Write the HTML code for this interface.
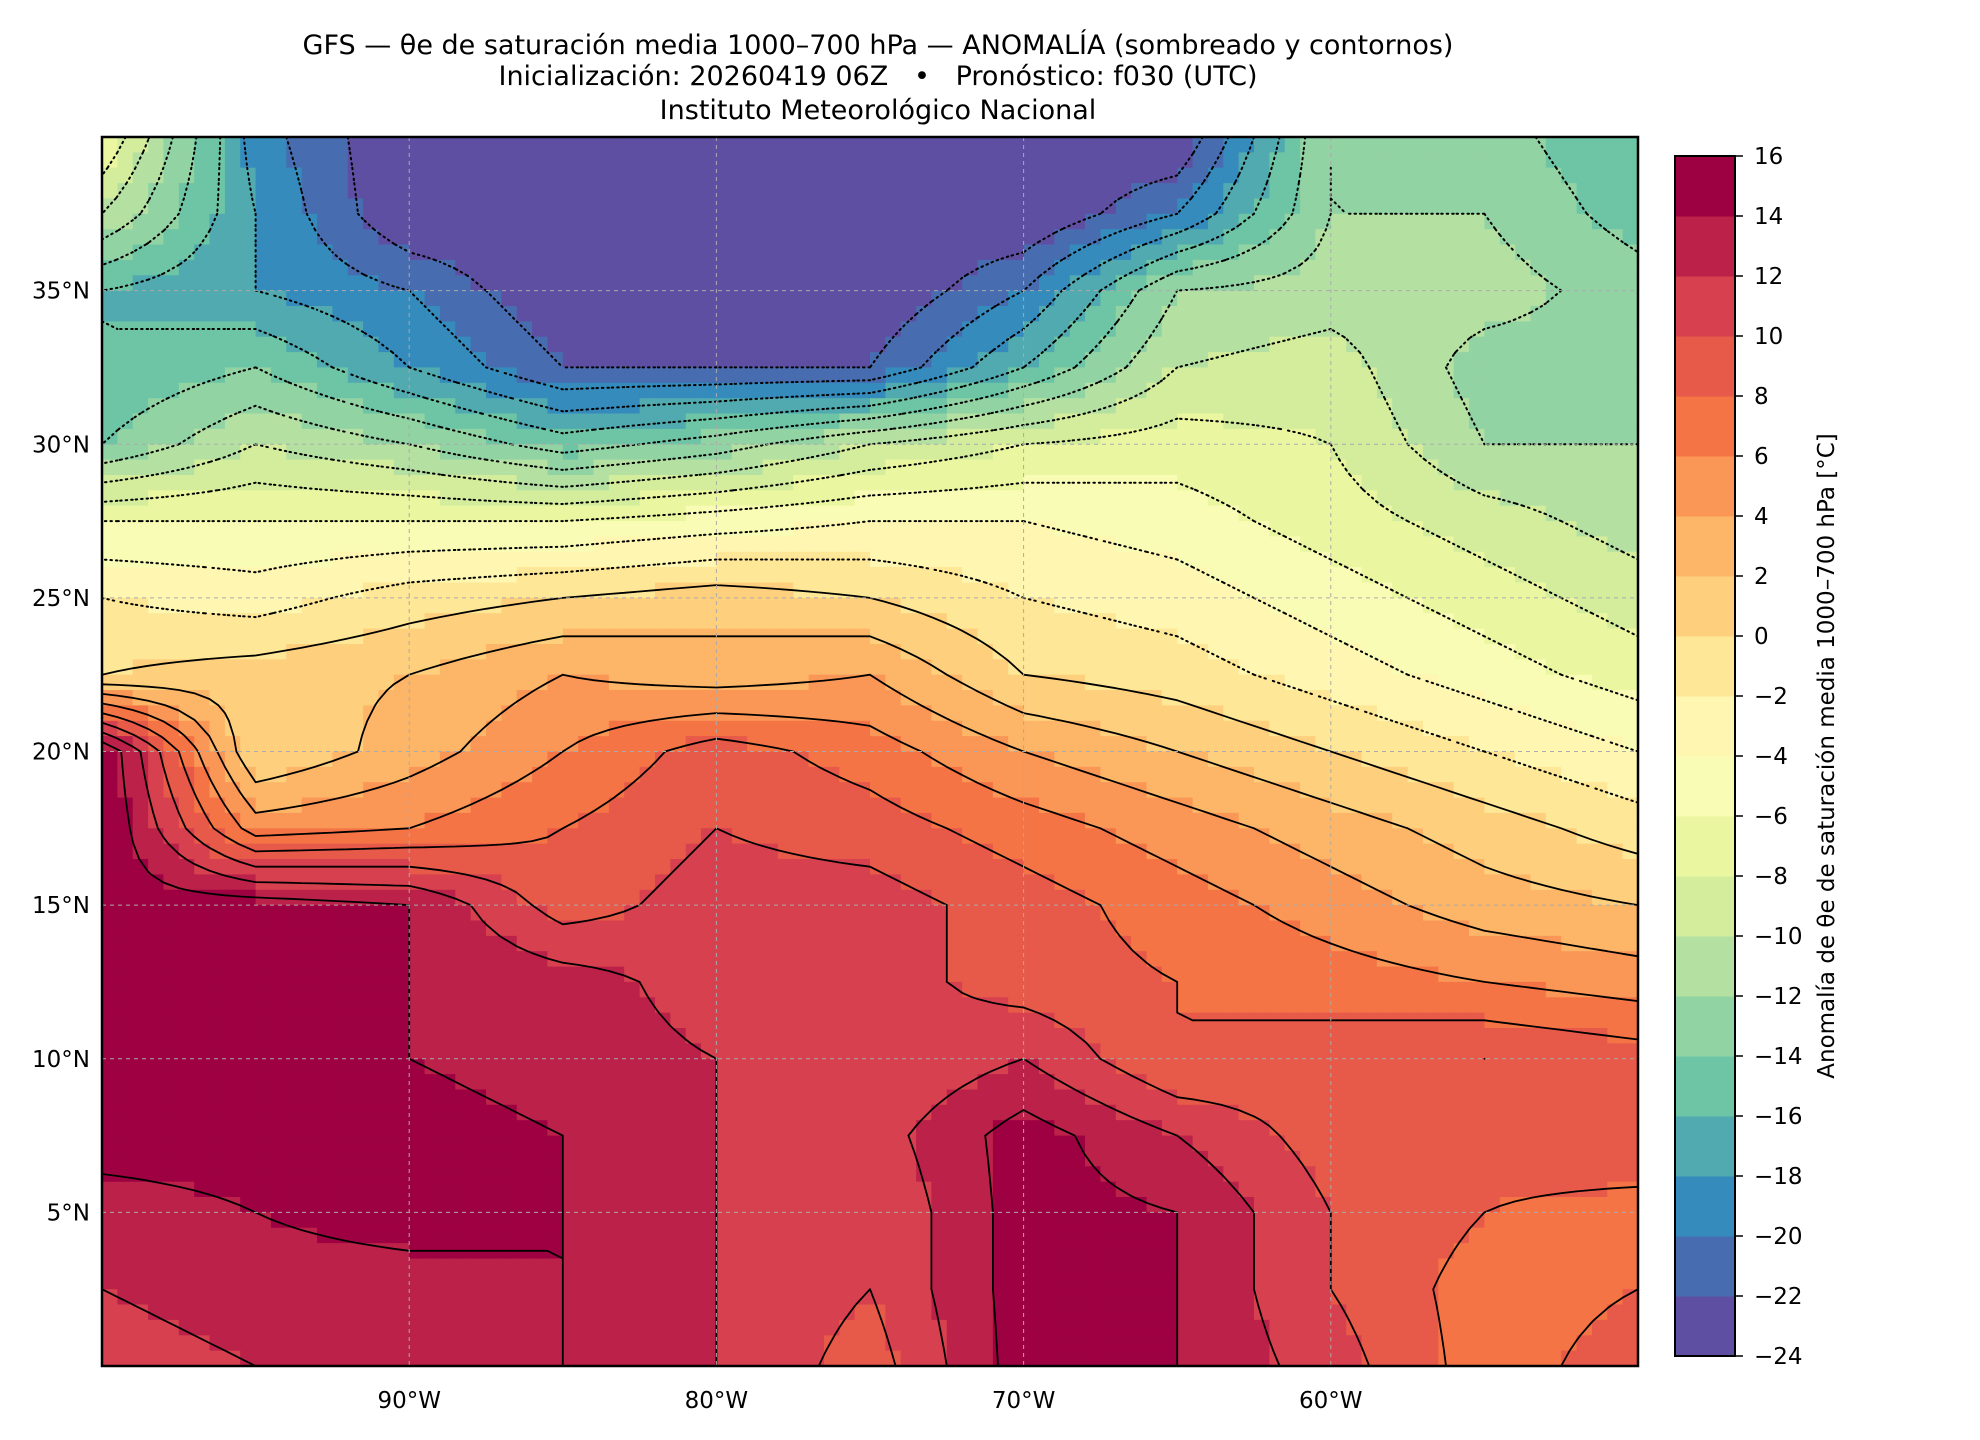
<!DOCTYPE html>
<html><head><meta charset="utf-8">
<style>
body{margin:0;background:#fff;}
#wrap{position:relative;width:1980px;height:1440px;font-family:"DejaVu Sans","Liberation Sans",sans-serif;color:#000;}
.t{position:absolute;left:0;width:1756px;text-align:center;font-size:27px;white-space:nowrap;}
</style></head><body>
<div id="wrap">
<div class="t" style="top:30px">GFS — θe de saturación media 1000–700 hPa — ANOMALÍA (sombreado y contornos)</div>
<div class="t" style="top:61px">Inicialización: 20260419 06Z &nbsp; • &nbsp; Pronóstico: f030 (UTC)</div>
<div class="t" style="top:95px">Instituto Meteorológico Nacional</div>
<svg id="svg" width="1980" height="1440" style="position:absolute;left:0;top:0"></svg>
</div>
<script>
// grid longitudes (°W, as negative) and latitudes (2.5° steps)
const lons=[-100,-95,-90,-85,-80,-75,-70,-65,-60,-55,-50];
const lats=[40,37.5,35,32.5,30,27.5,25,22.5,20,17.5,15,12.5,10,7.5,5,2.5,0];
// anomaly values [°C], rows by lat (north→south), cols by lon (west→east)
const row40=[-6,-19,-24,-24,-24,-24,-24,-24,-12,-13,-16];
const row375=[-10,-18,-24,-24,-24,-24,-24,-20,-12,-12,-15];
const row35=[-16,-18,-20,-24,-24,-24,-20,-12,-11,-11,-13];
const row325=[-16,-14,-18,-22,-22,-22,-16,-10,-9,-13,-13];
const row30=[-14,-10,-12,-15,-13,-10,-8,-7,-8,-12,-12];
const row275=[-6,-6,-6,-6,-5,-4,-4,-5,-7,-9,-11];
const row25=[-2,-3,-1,0,1,0,-2,-3,-5,-7,-9];
const row225=[0,1,2,4,3,4,0,-1,-3,-5,-7];
const row20=[16,0,3,6,9,7,4,2,0,-2,-4];
const row175=[16,5,6,8,10,9,7,5,3,1,-1];
const row15=[15,15,14,9,11,11,9,7,5,3,2];
const row125=[15,15,14,13,11,11,9,8,7,6,5];
const row10=[15,15,14,13,12,10,12,8,9,10,9];
const row75=[15,15,15,14,12,11,15,12,9,9,10];
const row5=[13,14,15,14,12,10,15,14,10,8,7];
const row25s=[12,13,13,14,12,10,15,14,10,7,8];
const row0=[11,12,13,14,12,9,15,14,11,7,9];
const field=[row40,row375,row35,row325,row30,row275,row25,row225,row20,row175,row15,row125,row10,row75,row5,row25s,row0];
const levels=[];for(let v=-24;v<=16;v+=2)levels.push(v);
const lonTicks=[-90,-80,-70,-60];
const lonTickLabels=["90°W","80°W","70°W","60°W"];
const latTicks=[35,30,25,20,15,10,5];
const latTickLabels=["35°N","30°N","25°N","20°N","15°N","10°N","5°N"];

const L=102,R=1638,T=137,B=1366;
const lon0=-100,lon1=-50,lat0=0,lat1=40;
const xS=lo=>L+(lo-lon0)/(lon1-lon0)*(R-L);
const yS=la=>B-(la-lat0)/(lat1-lat0)*(B-T);
const NS="http://www.w3.org/2000/svg";
const svg=document.getElementById('svg');
function mk(tag,attrs,parent){const e=document.createElementNS(NS,tag);for(const k in attrs)e.setAttribute(k,attrs[k]);(parent||svg).appendChild(e);return e;}

const spec=["#9e0142","#d53e4f","#f46d43","#fdae61","#fee08b","#ffffbf","#e6f598","#abdda4","#66c2a5","#3288bd","#5e4fa2"].reverse();
function hex(h){return [1,3,5].map(i=>parseInt(h.substr(i,2),16));}
function cmap(t){const p=t*10,i=Math.min(9,Math.floor(p)),f=p-i;const a=hex(spec[i]),b=hex(spec[i+1]);return "rgb("+a.map((v,k)=>Math.round(v+(b[k]-v)*f)).join(",")+")";}
const binColors=[];for(let i=0;i<levels.length-1;i++)binColors.push(cmap(i/(levels.length-2)));
function colorFor(v){let i=Math.floor((v-levels[0])/2);i=Math.max(0,Math.min(levels.length-2,i));return binColors[i];}

const dLon=lons[1]-lons[0], dLat=lats[0]-lats[1];
function sample(lo,la){
  let cx=(lo-lons[0])/dLon, cy=(lats[0]-la)/dLat;
  cx=Math.max(0,Math.min(lons.length-1.0001,cx));cy=Math.max(0,Math.min(lats.length-1.0001,cy));
  const i=Math.floor(cx),j=Math.floor(cy),fx=cx-i,fy=cy-j;
  const a=field[j][i],b=field[j][i+1],c=field[j+1][i],d=field[j+1][i+1];
  return a*(1-fx)*(1-fy)+b*fx*(1-fy)+c*(1-fx)*fy+d*fx*fy;
}
const g=mk('g',{});
const st=0.5;const nx=(lon1-lon0)/st, ny=(lat1-lat0)/st;
const vals=[];
for(let j=0;j<=ny;j++){vals.push([]);for(let i=0;i<=nx;i++)vals[j].push(sample(lon0+i*st,lat1-j*st));}
for(let j=0;j<ny;j++)for(let i=0;i<nx;i++){
  const v=sample(lon0+(i+0.5)*st,lat1-(j+0.5)*st);
  const x0=xS(lon0+i*st),x1=xS(lon0+(i+1)*st),y0=yS(lat1-j*st),y1=yS(lat1-(j+1)*st);
  const r=mk('rect',{x:x0.toFixed(1),y:y0.toFixed(1),width:(x1-x0+0.6).toFixed(1),height:(y1-y0+0.6).toFixed(1),fill:colorFor(v)},g);
  
  
}
// contours via marching squares (interior levels only)
const cg=mk('g',{});
levels.slice(1,-1).forEach(lv=>{
  let d="";
  for(let j=0;j<ny;j++)for(let i=0;i<nx;i++){
    const c=[vals[j][i],vals[j][i+1],vals[j+1][i+1],vals[j+1][i]];
    const p=[[i,j],[i+1,j],[i+1,j+1],[i,j+1]];
    const pts=[];
    for(let e=0;e<4;e++){const a=c[e],b=c[(e+1)%4];if((a<lv)!==(b<lv)){const f=(lv-a)/(b-a);const pa=p[e],pb=p[(e+1)%4];pts.push([pa[0]+(pb[0]-pa[0])*f,pa[1]+(pb[1]-pa[1])*f]);}}
    for(let k=0;k+1<pts.length;k+=2){
      const X=q=>xS(lon0+q[0]*st).toFixed(1),Y=q=>yS(lat1-q[1]*st).toFixed(1);
      d+="M"+X(pts[k])+" "+Y(pts[k])+"L"+X(pts[k+1])+" "+Y(pts[k+1]);
    }
  }
  if(d){const pth=mk('path',{d:d,fill:'none',stroke:'#000','stroke-width':lv<0?2:1.8,'stroke-dasharray':lv<0?'1.5 4':'none','stroke-linecap':'round'},cg);
    
    }
});
// gridlines
lonTicks.forEach(lo=>{const l=mk('line',{x1:xS(lo),x2:xS(lo),y1:T,y2:B,stroke:'#aaa','stroke-width':1,'stroke-dasharray':'4 4'});
  });
latTicks.forEach(la=>{const l=mk('line',{x1:L,x2:R,y1:yS(la),y2:yS(la),stroke:'#aaa','stroke-width':1,'stroke-dasharray':'4 4'});
  });
const fr=mk('rect',{x:L,y:T,width:R-L,height:B-T,fill:'none',stroke:'#000','stroke-width':2.5});

lonTicks.forEach((lo,k)=>{const t=mk('text',{x:xS(lo),y:B+42,'text-anchor':'middle','font-size':23,'font-family':'DejaVu Sans, sans-serif'});t.textContent=lonTickLabels[k];
  });
latTicks.forEach((la,k)=>{const t=mk('text',{x:L-12,y:yS(la)+8,'text-anchor':'end','font-size':23,'font-family':'DejaVu Sans, sans-serif'});t.textContent=latTickLabels[k];
  });
// colorbar
const CL=1675,CR=1735,CT=156,CB=1356;
const cb=mk('g',{});
const cy=v=>CB-(v-levels[0])/(levels[levels.length-1]-levels[0])*(CB-CT);
for(let i=0;i<levels.length-1;i++){const r=mk('rect',{x:CL,y:cy(levels[i+1]),width:CR-CL,height:cy(levels[i])-cy(levels[i+1])+0.5,fill:binColors[i]},cb);
  }
mk('rect',{x:CL,y:CT,width:CR-CL,height:CB-CT,fill:'none',stroke:'#000','stroke-width':2},cb);
levels.forEach(v=>{mk('line',{x1:CR,x2:CR+8,y1:cy(v),y2:cy(v),stroke:'#000','stroke-width':1.5},cb);
  const t=mk('text',{x:CR+19,y:cy(v)+8,'font-size':23,'font-family':'DejaVu Sans, sans-serif'},cb);t.textContent=(v<0?'−':'')+Math.abs(v);
  });
const lab=mk('text',{x:0,y:0,'text-anchor':'middle','font-size':23,'font-family':'DejaVu Sans, sans-serif',transform:'translate(1834,'+((CT+CB)/2)+') rotate(-90)'});
lab.textContent='Anomalía de θe de saturación media 1000–700 hPa [°C]';

</script>
</body></html>
